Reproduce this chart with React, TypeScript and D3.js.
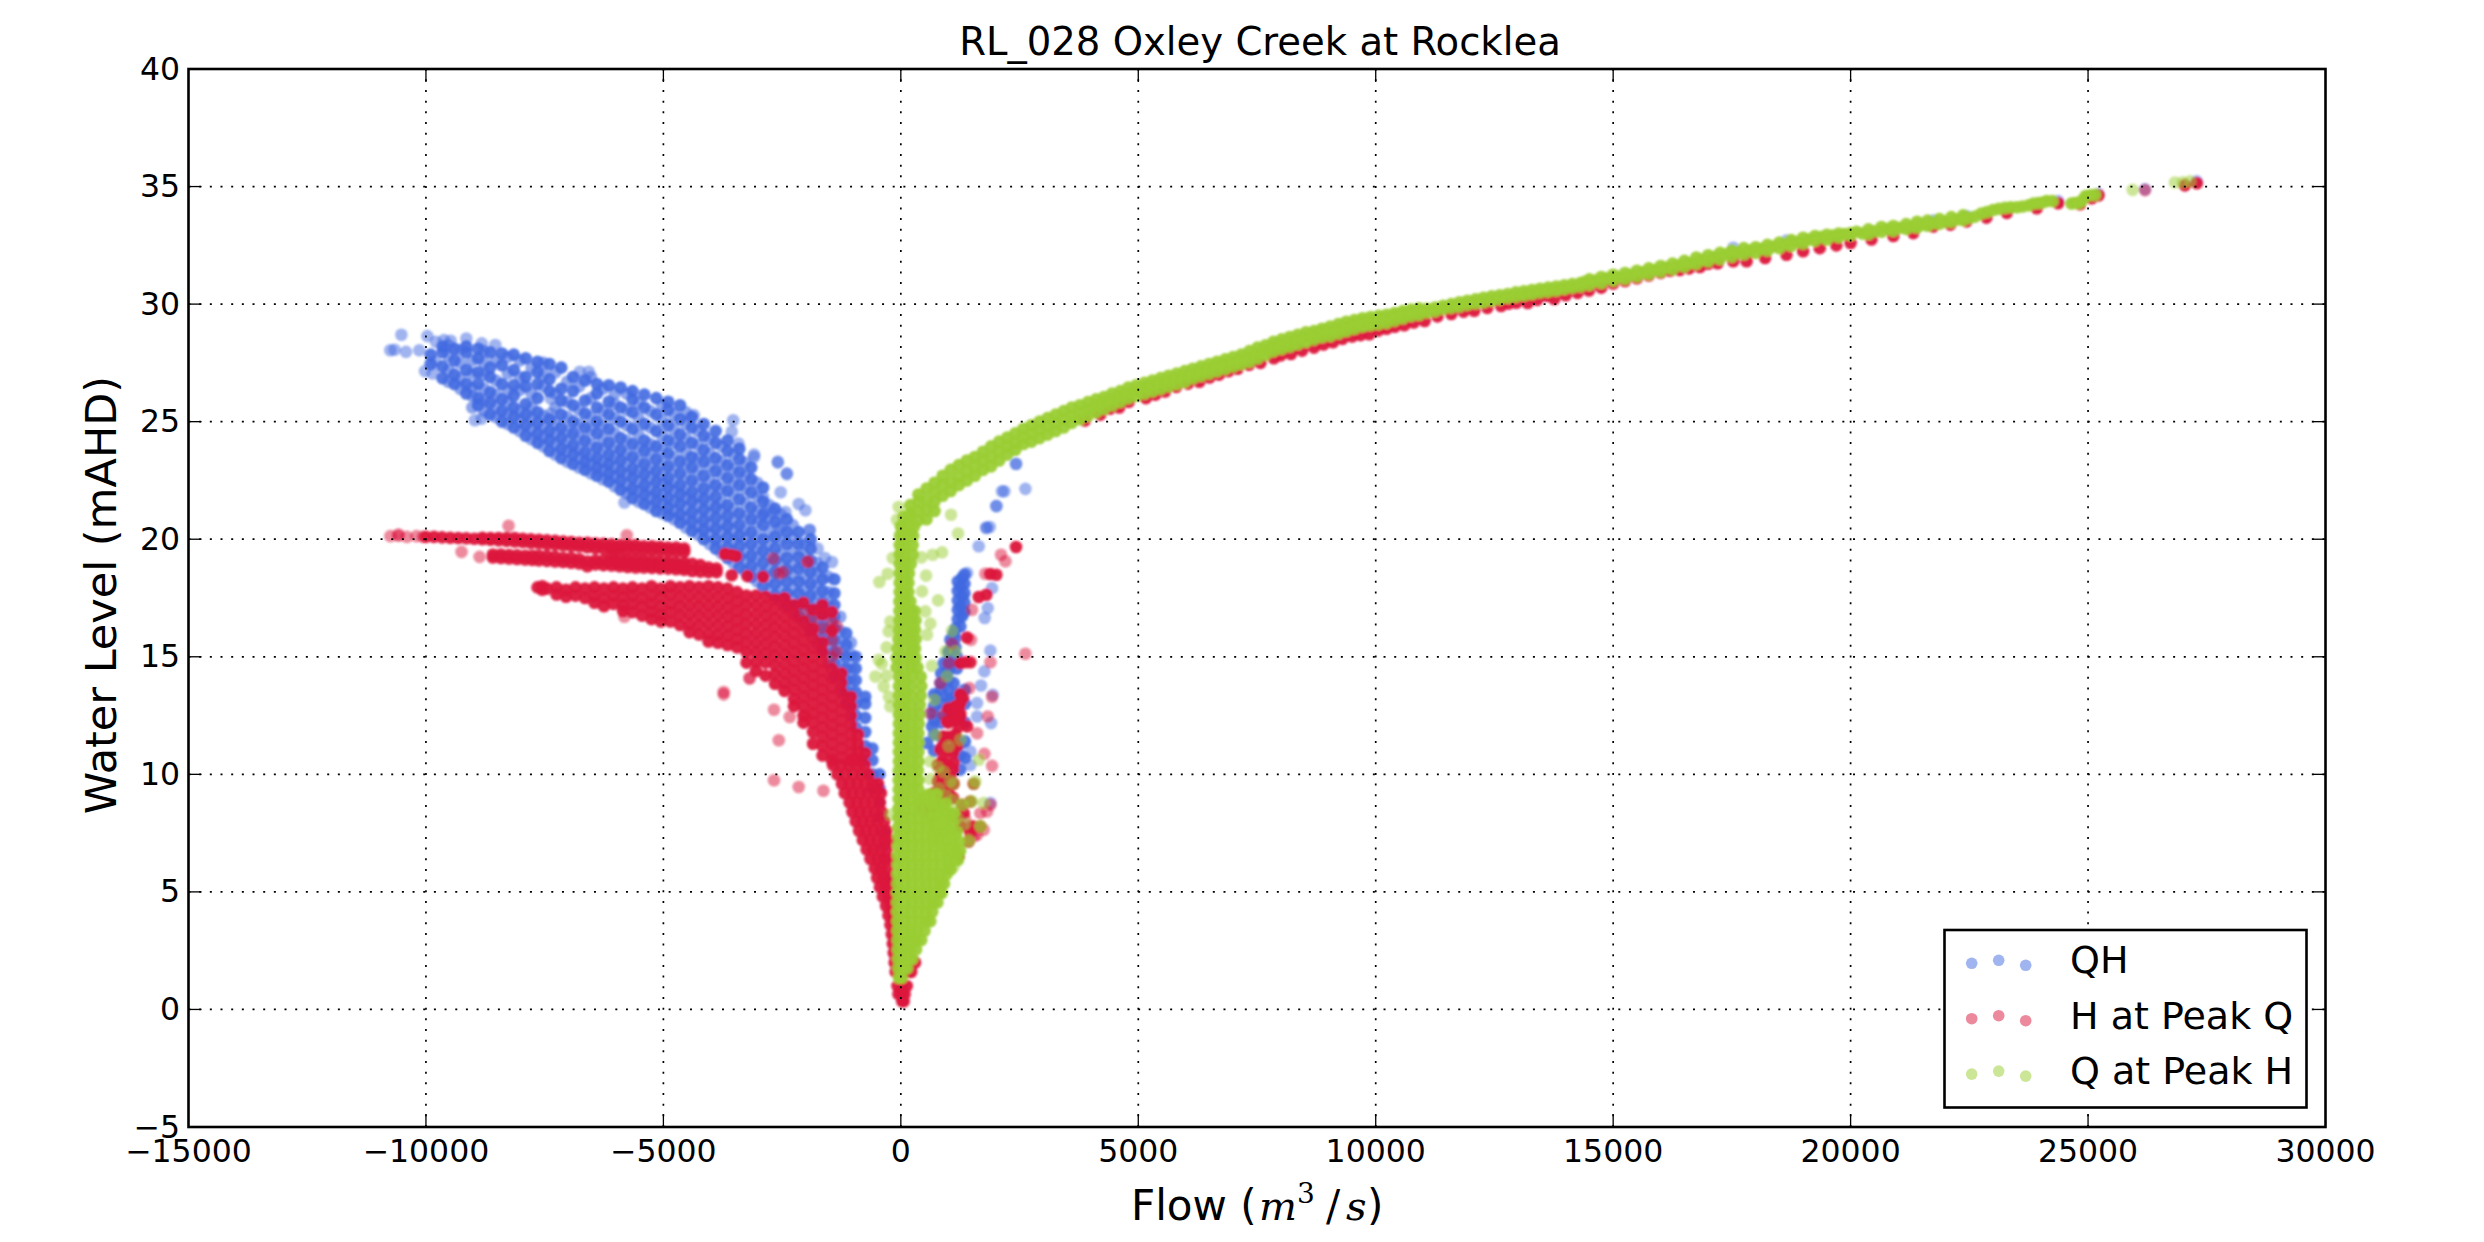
import React from "react";
import * as d3 from "d3";

type Col = [number, number[]];
const xTickValues = [-15000, -10000, -5000, 0, 5000, 10000, 15000, 20000, 25000, 30000];
const yTickValues = [-5, 0, 5, 10, 15, 20, 25, 30, 35, 40];
const chartTitle = "RL_028 Oxley Creek at Rocklea";
const legendLabels = ["QH", "H at Peak Q", "Q at Peak H"];

// QH: columns of [flow, levels]
const qhDense: Col[] = [
  [-9900, [27.45, 27.85]],
  [-9650, [26.85, 27.35, 27.95, 28.2]],
  [-9400, [26.6, 27.0, 27.6, 28.1]],
  [-9150, [26.2, 26.6, 27.2, 27.95, 28.2]],
  [-8900, [25.7, 26.0, 26.6, 27.1, 27.7, 28.1]],
  [-8650, [25.3, 25.8, 26.25, 26.9, 27.3, 27.95]],
  [-8400, [25.0, 25.45, 25.95, 26.6, 27.4, 27.9]],
  [-8150, [24.75, 25.2, 25.6, 26.1, 26.55, 27.2, 27.85]],
  [-7900, [24.4, 24.85, 25.3, 25.75, 26.5, 26.9, 27.7]],
  [-7650, [24.1, 24.5, 24.95, 25.4, 26.0, 26.6, 27.1, 27.55]],
  [-7400, [23.75, 24.2, 24.6, 25.1, 26.3, 26.8, 27.45]],
  [-7150, [23.45, 23.85, 24.3, 24.75, 25.3, 25.9, 26.4, 27.3]],
  [-6900, [23.2, 23.6, 24.0, 24.5, 25.0, 25.7, 26.3, 26.9]],
  [-6650, [22.95, 23.3, 23.7, 24.2, 24.75, 25.35, 25.9, 26.75]],
  [-6400, [22.7, 23.05, 23.45, 23.9, 24.5, 25.0, 25.6, 26.2, 26.6]],
  [-6150, [22.45, 22.8, 23.2, 23.6, 24.1, 24.7, 25.3, 25.85, 26.55]],
  [-5900, [22.1, 22.5, 22.9, 23.35, 23.8, 24.3, 25.0, 25.6, 26.45]],
  [-5650, [21.75, 22.15, 22.6, 23.0, 23.5, 24.05, 24.7, 25.4, 25.95, 26.3]],
  [-5400, [21.5, 21.9, 22.3, 22.75, 23.2, 23.75, 24.2, 24.9, 25.6, 26.15]],
  [-5150, [21.2, 21.6, 22.0, 22.45, 22.9, 23.4, 23.95, 24.6, 25.3, 26.0]],
  [-4900, [21.0, 21.35, 21.75, 22.2, 22.6, 23.1, 23.65, 24.2, 24.85, 25.5, 25.85]],
  [-4650, [20.7, 21.05, 21.5, 21.9, 22.3, 22.8, 23.3, 23.95, 24.45, 25.1, 25.7]],
  [-4400, [20.35, 20.75, 21.15, 21.6, 22.0, 22.5, 23.05, 23.5, 24.1, 24.75, 25.2]],
  [-4150, [20.0, 20.4, 20.8, 21.25, 21.7, 22.15, 22.7, 23.3, 23.8, 24.4, 24.9]],
  [-3900, [19.6, 20.0, 20.45, 20.9, 21.35, 21.8, 22.3, 22.9, 23.45, 24.1, 24.6]],
  [-3650, [19.2, 19.65, 20.1, 20.55, 21.0, 21.45, 22.05, 22.6, 23.15, 23.75, 24.2]],
  [-3400, [18.8, 19.25, 19.7, 20.15, 20.6, 21.1, 21.7, 22.3, 22.85, 23.4, 23.85]],
  [-3150, [18.4, 18.85, 19.3, 19.8, 20.3, 20.85, 21.35, 22.0, 22.55, 23.05]],
  [-2900, [18.0, 18.5, 19.0, 19.5, 20.0, 20.6, 21.05, 21.6, 22.2]],
  [-2650, [17.6, 18.1, 18.6, 19.1, 19.6, 20.1, 20.75, 21.3]],
  [-2400, [17.2, 17.7, 18.2, 18.7, 19.2, 19.8, 20.3, 20.85]],
  [-2150, [16.7, 17.2, 17.7, 18.2, 18.75, 19.25, 19.8, 20.3]],
  [-1900, [16.1, 16.6, 17.1, 17.6, 18.1, 18.6, 19.1, 19.6, 20.0]],
  [-1650, [15.3, 15.8, 16.3, 16.8, 17.3, 17.8, 18.3, 18.8]],
  [-1400, [14.2, 14.7, 15.2, 15.7, 16.2, 16.7, 17.2, 17.7, 18.3]],
  [-1150, [13.0, 13.5, 14.0, 14.5, 15.0, 15.5, 16.0]],
  [-950, [12.0, 12.5, 13, 13.5, 14, 14.5, 15.0]],
  [-750, [10.6, 11.2, 11.8, 12.4, 13.0, 13.3]],
  [-600, [9.4, 10.0, 10.6, 11.1]],
  [-450, [8.2, 8.8, 9.4, 10.0]],
  [-340, [6.4, 7.0, 7.5]],
  [-230, [5.0, 5.5]],
  [1289, [18.35, 17.57, 16.72]],
  [1254, [18.0, 17.14, 16.29]],
  [1113, [16.0, 14.73, 13.88]],
  [1043, [15.73, 15.3, 13.17]],
  [903, [14.73, 12.46]],
  [973, [14.31]],
  [833, [13.88]],
  [762, [13.3]],
  [692, [12.6]],
  [657, [12.04]],
  [552, [11.33]],
  [1200, [16.6, 17.0, 17.4, 17.8, 18.2]],
  [1340, [16.9, 17.3, 17.7, 18.1, 18.5]],
  [1150, [15.4, 15.8, 16.2]],
  [1000, [15.2, 14.8, 14.4, 14.0, 13.6, 13.2, 12.8, 12.4]],
  [1180, [15.0, 14.5, 13.4, 12.8]],
  [850, [14.3, 13.6, 13.0, 12.2, 11.6]],
  [700, [13.4, 12.9, 12.3, 11.7, 11.0]],
  [1350, [13.6, 13.0, 12.2, 11.4, 10.7]],
  [1250, [11.3, 10.8, 10.2]],
];
const qhFill: Col[] = [
  [-9525, [26.7, 27.2, 27.8, 28.25]], [-9275, [26.4, 26.85, 27.5, 28.05]], [-9025, [25.6, 26.1, 26.45, 27.05, 27.6]],
  [-8775, [25.45, 25.9, 26.4, 27.0, 27.5, 28.0]], [-8525, [25.2, 25.65, 26.15, 26.75, 27.6]],
  [-8275, [24.9, 25.35, 25.85, 26.3, 27.05, 27.75]], [-8025, [24.6, 25.05, 25.45, 26.35, 26.9, 27.6]],
  [-7775, [24.25, 24.7, 25.15, 25.6, 26.2, 27.3]], [-7525, [23.95, 24.35, 24.8, 25.25, 26.5, 27.0, 27.5]],
  [-7275, [23.6, 24.05, 24.5, 24.95, 25.6, 26.2, 27.1]], [-7025, [23.3, 23.75, 24.15, 24.6, 25.2, 25.85, 26.7]],
  [-6775, [23.05, 23.45, 23.85, 24.35, 24.9, 25.5, 26.5]], [-6525, [22.8, 23.2, 23.55, 24.05, 24.65, 25.2, 26.0, 26.9]],
  [-6275, [22.55, 22.95, 23.3, 23.8, 24.3, 24.85, 25.45, 26.4]], [-6025, [22.25, 22.65, 23.05, 23.5, 23.95, 24.5, 25.15, 25.75, 26.2]],
  [-5775, [21.95, 22.3, 22.75, 23.2, 23.65, 24.2, 24.85, 25.5, 26.2]], [-5525, [21.6, 22.05, 22.45, 22.9, 23.35, 23.9, 24.45, 25.15, 25.8]],
  [-5275, [21.35, 21.75, 22.15, 22.6, 23.05, 23.6, 24.05, 24.75, 25.45]], [-5025, [21.1, 21.5, 21.9, 22.35, 22.75, 23.25, 23.8, 24.4, 25.05, 25.7]],
  [-4775, [20.85, 21.2, 21.6, 22.05, 22.45, 22.95, 23.5, 24.1, 24.65, 25.3]], [-4525, [20.5, 20.9, 21.3, 21.75, 22.15, 22.65, 23.2, 23.7, 24.3, 24.9, 25.4]],
  [-4275, [20.2, 20.55, 21.0, 21.45, 21.85, 22.35, 22.9, 23.45, 24.0, 24.6]], [-4025, [19.8, 20.2, 20.6, 21.05, 21.5, 22.0, 22.5, 23.1, 23.65, 24.25]],
  [-3775, [19.4, 19.8, 20.3, 20.7, 21.2, 21.6, 22.15, 22.75, 23.3, 23.95]], [-3525, [19.0, 19.45, 19.9, 20.35, 20.8, 21.3, 21.9, 22.45, 23.0, 23.6]],
  [-3275, [18.6, 19.05, 19.5, 20.0, 20.45, 21.0, 21.55, 22.15, 22.7, 23.25]], [-3025, [18.2, 18.7, 19.2, 19.65, 20.15, 20.7, 21.2, 21.8, 22.4]],
  [-2775, [17.8, 18.3, 18.8, 19.3, 19.8, 20.35, 20.9, 21.45]], [-2525, [17.4, 17.9, 18.4, 18.9, 19.4, 19.95, 20.5, 21.05]],
  [-2275, [16.9, 17.45, 17.95, 18.45, 18.95, 19.5, 20.05, 20.6]], [-2025, [16.4, 16.9, 17.35, 17.85, 18.35, 18.85, 19.35, 19.8]],
  [-1775, [15.6, 16.05, 16.55, 17.05, 17.55, 18.05, 18.55, 19.0]], [-1525, [14.75, 15.25, 15.75, 16.25, 16.75, 17.25, 17.75, 18.4]],
  [-1275, [13.6, 14.1, 14.6, 15.1, 15.6, 16.1, 16.7]], [-1050, [12.5, 13.0, 13.5, 14.0, 14.5, 15.1, 15.6]],
];
const qhSparse: Col[] = [
  [-10750, [28.04]], [-10660, [28.06]], [-10420, [27.97]], [-10140, [28.04]], [-10517, [28.7]],
  [-9970, [28.64]], [-9790, [28.4]], [-9620, [28.47]], [-9480, [28.44]], [-10020, [27.15]],
  [-9860, [27.05]], [-9810, [27.55]], [-9150, [28.54]], [-8825, [28.33, 25.13]], [-8540, [28.26]],
  [-8970, [25.06]], [-7370, [25.98, 25.35]], [-6760, [27.12]], [-6570, [27.12]], [-4360, [25.28]],
  [-3530, [25.06]], [-3560, [24.57]], [-3090, [23.5, 23.6]], [-2590, [23.26, 23.3]], [-2400, [22.77, 22.8]],
  [-2530, [22.0]], [-2900, [21.8]], [-2150, [21.5]], [-2010, [21.23]], [-2430, [21.16]],
  [-2670, [21.16]], [-2860, [21.16]], [-1920, [20.38, 20.4]], [-2570, [20.5]], [-5820, [21.56]],
  [-1450, [19.03]], [-3420, [24.07]], [-1750, [19.6]], [-1600, [19.2]],
  [2426, [23.21, 23.2]], [2131, [22.04]], [2180, [22.04]], [2623, [22.14]], [2012, [21.4, 21.42]],
  [1801, [20.48, 20.5]], [1872, [20.52]], [1640, [19.7]], [1921, [17.92]], [1830, [17.07]],
  [1766, [16.65]], [1886, [15.26, 8.78]], [1759, [14.38]], [1689, [13.78]], [1935, [13.38]],
  [1605, [13.03, 12.46]], [1900, [12.18]], [1464, [10.97, 10.4]], [1393, [18.56]], [1008, [14.73]],
  [1078, [15.55]], [622, [12.6]], [26200, [34.88]], [25216, [34.68]], [24370, [34.38]], [27290, [35.22]],
  [21740, [33.55]], [22443, [33.75]], [17529, [32.4]], [18650, [32.7]],
];

// H at Peak Q
const hpqDense: Col[] = [
  [-10000, [20.1]], [-9830, [20.1]], [-9660, [20.08]], [-9490, [20.06]], [-9320, [20.05]], [-9150, [20.04]],
  [-8980, [20.02]], [-8810, [20.0, 20.06]], [-8640, [19.98, 20.05]], [-8470, [19.95, 20.05]], [-8300, [19.93, 20.05]], [-8130, [19.9, 20.05]],
  [-7960, [19.88, 20.02]], [-7790, [19.85, 20.0]], [-7620, [19.83, 19.98, 19.1, 19.3]], [-7450, [19.8, 19.95, 19.08, 19.28]], [-7280, [19.77, 19.93, 19.05, 19.25]],
  [-7110, [19.74, 19.9, 19.03, 19.2]], [-6940, [19.72, 19.88, 19.0, 19.2]], [-6770, [19.7, 19.85, 18.97, 19.15]], [-6600, [19.66, 19.85, 19.05, 18.85]],
  [-6430, [19.63, 19.82, 18.93, 19.1]], [-6260, [19.6, 19.8, 18.9, 19.1]], [-6090, [19.6, 19.78, 19.25, 18.88, 19.05]], [-5920, [19.6, 19.75, 19.2, 18.85, 19.0]],
  [-5750, [19.58, 19.75, 19.15, 18.82, 18.98]], [-5580, [19.58, 19.75, 19.15, 18.8, 18.95]], [-5410, [19.55, 19.7, 19.1, 18.8, 18.95]],
  [-5240, [19.55, 19.7, 19.1, 18.78, 18.92]], [-5070, [19.52, 19.68, 19.05, 18.76, 18.9]], [-4900, [19.5, 19.65, 19.05, 18.75, 18.9]],
  [-4730, [19.48, 19.65, 19.0, 18.72, 18.88]], [-4560, [19.46, 19.6, 19.0, 18.7, 18.85]], [-4390, [18.95, 18.65]], [-4220, [18.9, 18.62]],
  [-4050, [18.6, 18.8]], [-3880, [18.6, 18.75]], [-3700, [19.36, 19.38]], [-3560, [18.47, 19.33]], [-3470, [19.28]],
  [-8590, [19.22, 19.35]], [-8420, [19.2, 19.35]], [-8250, [19.18, 19.33]], [-8080, [19.16, 19.32]], [-7910, [19.14, 19.3]], [-7760, [19.12, 19.3]],
  [-3230, [18.43]], [-2900, [18.4]],
  [-7650, [17.95]], [-7550, [17.85, 18.0]],
  [-7450, [17.9]],
  [-7250, [17.95, 17.65]],
  [-7050, [17.85, 17.55]],
  [-6850, [17.95, 17.6]],
  [-6650, [17.9, 17.5]],
  [-6450, [17.95, 17.6, 17.3]],
  [-6250, [17.9, 17.5, 17.15]],
  [-6050, [17.95, 17.6, 17.25]],
  [-5850, [17.9, 17.55, 17.2, 16.95]],
  [-5650, [17.95, 17.6, 17.25, 16.9]],
  [-5450, [17.9, 17.5, 17.15, 16.75]],
  [-5250, [18.0, 17.6, 17.25, 16.9, 16.6]],
  [-5050, [17.9, 17.55, 17.15, 16.8, 16.5]],
  [-4850, [18.0, 17.65, 17.25, 16.9, 16.5]],
  [-4650, [17.95, 17.55, 17.15, 16.75, 16.35]],
  [-4450, [18.0, 17.6, 17.2, 16.8, 16.4, 16.05]],
  [-4250, [17.95, 17.55, 17.15, 16.75, 16.35, 15.95]],
  [-4050, [18.0, 17.6, 17.2, 16.8, 16.4, 16.0, 15.65]],
  [-3850, [17.95, 17.55, 17.15, 16.75, 16.35, 15.95, 15.6]],
  [-3650, [17.9, 17.5, 17.1, 16.7, 16.3, 15.9, 15.5]],
  [-3450, [17.75, 17.35, 16.95, 16.55, 16.15, 15.75, 15.4]],
  [-3250, [17.6, 17.2, 16.8, 16.4, 16.0, 15.6, 15.2, 14.75]],
  [-3050, [17.6, 17.2, 16.8, 16.4, 16.0, 15.6, 15.2, 14.8, 14.4]],
  [-2850, [17.55, 17.15, 16.75, 16.35, 15.95, 15.55, 15.15, 14.75, 14.2]],
  [-2650, [17.45, 17.05, 16.65, 16.25, 15.85, 15.45, 15.05, 14.65, 14.25, 13.85]],
  [-2450, [17.5, 17.1, 16.7, 16.3, 15.9, 15.5, 15.1, 14.7, 14.3, 13.9, 13.55]],
  [-2250, [17.2, 16.8, 16.4, 16.0, 15.6, 15.2, 14.8, 14.4, 14.0, 13.6, 13.2, 12.9]],
  [-2050, [17.3, 16.5, 16.1, 15.7, 15.3, 14.9, 14.5, 14.1, 13.7, 13.3, 12.9, 12.5, 12.2]],
  [-1850, [17.0, 16.2, 15.8, 15.4, 15.0, 14.6, 14.2, 13.8, 13.4, 13.0, 12.6, 12.2, 11.8, 11.3]],
  [-1650, [17.2, 16.8, 15.6, 15.2, 14.8, 14.4, 14.0, 13.6, 13.2, 12.8, 12.4, 12.0, 11.6, 11.2, 10.8]],
  [-1450, [16.9, 16.1, 14.5, 14.1, 13.7, 13.3, 12.9, 12.5, 12.1, 11.7, 11.3, 10.9, 10.6]],
  [-1250, [14.3, 13.9, 13.5, 13.1, 12.7, 12.3, 11.9, 11.5, 11.1, 10.7]],
  [-1050, [13.3, 12.9, 12.5, 12.1, 11.7, 11.3, 10.9, 10.6]],
  [-900, [11.7, 11.3, 10.9, 10.6]],
  [-750, [10.9]],
  [1310, [13.24]], [1184, [12.89, 11.2]], [1254, [12.46, 7.78]], [1113, [12.46, 11.61, 10.48]], [973, [12.25]],
  [1219, [12.04]], [1394, [12.04]], [903, [11.61, 10.48]], [833, [11.05, 9.9]], [1043, [11.05, 9.9]],
  [797, [9.34]], [1008, [9.2]], [482, [8.56]],
  [1254, [14.73]], [1359, [14.77]], [1464, [14.77]], [2426, [19.67]], [1886, [18.52]], [2012, [18.49]],
  [1640, [17.54]], [1801, [17.64]], [1394, [15.82]],
  [1250, [13.4, 13.0, 12.6]], [1150, [12.9, 12.3, 11.7, 11.2]], [1000, [12.8, 12.2, 11.6, 11.0, 10.4, 9.8]],
  [880, [11.2, 10.6, 10.0, 9.4, 8.8]], [1100, [10.9, 10.2, 9.6, 9.0]], [780, [10.4, 9.7, 9.1]], [640, [8.6, 8.2]],
  [692, [9.2]], [1534, [7.78, 9.6]], [1324, [8.35]], [1289, [8.7]], [1464, [8.84, 7.5]], [1675, [7.78]],
  [1429, [7.14]], [1219, [6.5]], [903, [8.5]], [1113, [9.6, 8.2]],
];
const hpqFunnelRows: Col[] = [
  [10.4, [-1430, -1260, -1090, -920, -760]],
  [10.0, [-1340, -1170, -1000, -830, -680]],
  [9.6, [-1240, -1080, -920, -760, -600, -480]],
  [9.2, [-1180, -1020, -860, -700, -540, -420]],
  [8.8, [-1080, -920, -760, -600, -440]],
  [8.4, [-1020, -870, -710, -550, -400]],
  [8.0, [-950, -800, -650, -500, -350]],
  [7.6, [-880, -730, -580, -430, -300]],
  [7.2, [-800, -650, -500, -350, -250]],
  [6.8, [-720, -580, -440, -300]],
  [6.4, [-640, -500, -360, -240]],
  [6.0, [-550, -420, -290]],
  [5.6, [-500, -370, -250]],
  [5.2, [-440, -320, -200]],
  [4.8, [-380, -260, -150]],
  [4.4, [-310, -200]],
  [4.0, [-260, -160]],
  [3.6, [-220, -120]],
  [3.2, [-190, -100]],
  [2.8, [-170]],
  [2.4, [-150]],
  [2.0, [-130, 300]],
  [1.6, [-110, 150, 220]],
  [1.0, [-70, 30, 125]],
  [0.65, [-50, 20, 80]],
  [0.35, [30, 60]],
];
const hpqCurve: Col[] = [
  [3874, [25.05]], [4200, [25.3]], [4400, [25.55]], [4598, [25.6]], [4800, [25.85]], [5160, [26.0]], [5360, [26.15]], [5563, [26.28]],
  [5800, [26.48]], [6045, [26.62]], [6286, [26.7]], [6500, [26.88]], [6700, [27.0]], [6900, [27.15]], [7090, [27.25]], [7330, [27.42]],
  [7573, [27.5]], [7854, [27.7]], [8000, [27.82]], [8216, [27.88]], [8450, [28.02]], [8700, [28.15]], [8900, [28.28]], [9100, [28.38]],
  [9300, [28.52]], [9502, [28.62]], [9680, [28.68]], [9864, [28.72]], [10050, [28.88]], [10226, [28.95]], [10400, [29.04]], [10600, [29.1]],
  [10800, [29.22]], [11030, [29.28]], [11300, [29.48]], [11592, [29.58]], [11850, [29.68]], [12075, [29.72]], [12350, [29.84]], [12640, [29.92]],
  [12800, [30.02]], [12960, [30.06]], [13200, [30.05]], [13400, [30.18]], [13600, [30.35]], [13760, [30.22]], [14000, [30.38]], [14250, [30.48]],
  [14490, [30.58]], [14750, [30.7]], [15000, [30.88]], [15250, [30.98]], [15500, [31.1]], [15750, [31.22]], [16000, [31.33]], [16200, [31.42]],
  [16400, [31.45]], [16600, [31.52]], [16827, [31.58]], [17000, [31.72]],
  [17200, [31.74]], [17529, [31.82]], [17810, [31.82]], [18200, [31.96]], [18650, [32.1]], [19000, [32.25]], [19350, [32.38]], [19700, [32.5]], [20000, [32.6]],
  [20440, [32.75]], [20900, [32.9]], [21320, [33.02]], [21740, [33.3]], [22100, [33.38]], [22443, [33.52]], [22860, [33.68]], [23290, [33.88]],
  [23920, [34.08]], [24370, [34.29]], [24830, [34.25]], [25075, [34.5]], [25216, [34.62]], [27040, [35.05]], [27290, [35.14]],
];
const hpqSparse: Col[] = [
  [-10750, [20.13]], [-10580, [20.15, 20.2]], [-10400, [20.1]], [-10200, [20.13]], [-10060, [20.1]],
  [-8260, [20.57]], [-5770, [20.17]], [-9250, [19.46]], [-8870, [19.25]], [-3730, [13.4, 13.5]],
  [-2670, [12.75, 9.75]], [-2340, [12.44]], [-2010, [12.5]], [-2570, [11.45, 18.55]], [-2150, [9.46]], [-1630, [9.3]],
  [-5820, [16.7]], [-3185, [14.07, 14.1]], [-2690, [19.18]], [-1960, [19.03, 19.05]], [-2480, [18.6]],
  [-2050, [16.9]], [-1850, [16.6]], [-1650, [16.2]], [-1450, [16.5, 15.7, 15.0]], [-1350, [16.3, 15.2]],
  [2110, [19.34]], [2202, [19.06]], [1780, [18.53]], [1500, [17.0]], [1478, [15.72]], [2623, [15.13]], [1886, [14.77]],
  [1443, [13.67]], [1921, [13.3, 10.36]], [1830, [12.46]], [1605, [11.75, 7.43]], [1759, [10.87]], [1008, [14.73]],
  [1078, [15.55]], [833, [13.88]], [622, [12.6]], [903, [12.53]], [1535, [7.36]], [1359, [8.07]], [1675, [8.35]],
  [1815, [8.42]], [1886, [8.7]], [1745, [7.64]], [1464, [7.78]], [26200, [34.85]], [25216, [34.64]],
];

// Q at Peak H
const qpkFunnelRows: Col[] = [
  [1.35, [-40, 20]],
  [1.75, [-50, 55, 130]],
  [2.15, [-55, 60, 175, 240]],
  [2.55, [-60, 70, 195, 320]],
  [2.95, [-65, 60, 190, 320, 430]],
  [3.35, [-70, 70, 210, 350, 500]],
  [3.75, [-70, 80, 230, 380, 530, 620]],
  [4.15, [-75, 70, 220, 370, 520, 660]],
  [4.55, [-75, 80, 230, 380, 530, 680, 770]],
  [4.95, [-75, 70, 220, 370, 520, 670, 820, 860]],
  [5.35, [-70, 80, 230, 380, 530, 680, 830, 910]],
  [5.75, [-70, 70, 220, 370, 520, 670, 820, 960]],
  [5.95, [1050]],
  [6.15, [-65, 80, 230, 380, 530, 680, 830, 1000]],
  [6.35, [1100, 1200]],
  [6.55, [-65, 70, 220, 370, 520, 670, 820, 980]],
  [6.75, [1000, 1150, 1250]],
  [6.95, [-60, 80, 230, 380, 530, 680, 850]],
  [7.15, [950, 1100, 1220]],
  [7.35, [-55, 70, 220, 370, 520, 670, 800]],
  [7.55, [900, 1050, 1180]],
  [7.75, [-55, 80, 230, 380, 530, 680, 760]],
  [7.95, [800, 950, 1100]],
  [8.15, [-50, 70, 220, 370, 520, 660]],
  [8.35, [700, 850, 1000, 1120]],
  [8.55, [-50, 80, 230, 380, 520]],
  [8.75, [650, 800, 950]],
  [8.95, [-45, 70, 220, 370, 480]],
  [9.15, [600, 750]],
  [9.35, [-45, 80, 230, 370]],
  [9.75, [-45, 70, 220, 370]],
  [10.15, [-45, 80, 230, 360]],
  [10.55, [-40, 70, 220, 370]],
  [10.95, [-40, 80, 230, 370]],
  [11.35, [-40, 70, 220, 380]],
  [11.75, [-40, 80, 230, 370]],
  [12.15, [-40, 70, 220, 380]],
  [12.55, [-40, 80, 230, 390]],
  [12.95, [-40, 70, 220, 400]],
  [13.35, [-40, 80, 230, 420]],
  [13.75, [-40, 70, 220, 430]],
  [14.15, [-40, 80, 230, 420]],
  [14.55, [-90, 70, 220, 350]],
  [14.95, [-90, 60, 210, 310]],
  [15.35, [-70, 80, 230, 300]],
  [15.75, [-50, 70, 220, 310]],
  [16.15, [-40, 80, 230, 300]],
  [16.55, [-30, 70, 220, 310]],
  [16.95, [-30, 90, 210, 290]],
  [17.35, [-30, 80, 200]],
  [17.75, [-25, 70, 160]],
  [18.15, [-25, 80, 160]],
  [18.55, [-25, 70, 170]],
  [18.95, [-25, 80, 210]],
  [19.35, [-25, 70, 250]],
  [19.75, [-25, 80, 250]],
  [20.15, [-20, 70, 260]],
  [20.55, [0, 100, 280]],
  [20.95, [60, 180]],
];
const qpkBand: Col[] = [
  [200, [20.3, 20.7, 21.1, 21.45]], [370, [20.8, 21.2, 21.6, 21.9]], [540, [20.85, 21.25, 21.65, 22.15]],
  [710, [21.2, 21.6, 22.0, 22.4]], [880, [21.85, 22.3, 22.7]], [1050, [22.05, 22.45, 22.95]],
  [1220, [22.3, 22.65, 23.15]], [1390, [22.5, 22.9, 23.35]], [1560, [22.7, 23.1, 23.5]],
  [1730, [22.95, 23.35, 23.72]], [1900, [23.1, 23.5, 23.95]], [2070, [23.35, 23.75, 24.15]],
  [2240, [23.6, 23.95, 24.32]], [2410, [23.8, 24.1, 24.5]], [2580, [24.05, 24.35, 24.7]],
  [2750, [24.15, 24.5, 24.85]], [2920, [24.3, 24.65, 25.0]], [3090, [24.45, 24.8, 25.15]],
  [3260, [24.6, 24.95, 25.3]], [3430, [24.75, 25.1, 25.45]], [3600, [24.95, 25.25, 25.6]],
  [3770, [25.1, 25.4, 25.7]], [3940, [25.25, 25.55, 25.83]], [4110, [25.4, 25.7, 25.95]],
  [4280, [25.55, 25.85, 26.05]], [4450, [25.7, 25.95, 26.2]], [4620, [25.85, 26.1, 26.3]],
  [4790, [26.0, 26.2, 26.45]], [4960, [26.1, 26.3, 26.55]], [5130, [26.2, 26.45, 26.65]],
  [5300, [26.3, 26.55, 26.75]], [5470, [26.4, 26.65, 26.85]], [5640, [26.5, 26.75, 26.95]],
  [5810, [26.6, 26.85, 27.05]], [5980, [26.7, 26.95, 27.15]], [6150, [26.85, 27.05, 27.25]],
  [6320, [26.95, 27.15, 27.35]], [6490, [27.05, 27.25, 27.45]], [6660, [27.15, 27.35, 27.55]],
  [6830, [27.25, 27.45, 27.65]], [7000, [27.35, 27.55, 27.75]], [7170, [27.45, 27.65, 27.85]],
  [7340, [27.55, 27.75, 28.0]], [7510, [27.7, 27.9, 28.15]], [7680, [27.85, 28.05, 28.25]],
  [7850, [28.0, 28.2, 28.4]], [8020, [28.1, 28.3, 28.5]], [8190, [28.2, 28.4, 28.6]],
  [8360, [28.3, 28.5, 28.7]], [8530, [28.4, 28.6, 28.8]], [8700, [28.5, 28.7, 28.85]],
  [8870, [28.6, 28.8, 28.95]], [9040, [28.65, 28.85, 29.05]], [9210, [28.75, 28.95, 29.15]],
  [9380, [28.85, 29.05, 29.25]], [9550, [28.95, 29.15, 29.32]], [9720, [29.05, 29.25, 29.4]],
  [9890, [29.1, 29.3, 29.45]], [10060, [29.15, 29.35, 29.5]], [10230, [29.2, 29.4, 29.55]],
  [10400, [29.3, 29.5, 29.62]], [10570, [29.4, 29.55, 29.7]], [10740, [29.5, 29.65, 29.77]],
  [10910, [29.55, 29.7, 29.82]], [11080, [29.65, 29.8]], [11250, [29.7, 29.85]], [11420, [29.8, 29.93]],
  [11590, [29.85, 30.0]], [11760, [29.9, 30.08]], [11930, [29.98, 30.14]], [12100, [30.03, 30.2]],
  [12270, [30.08, 30.27]], [12440, [30.15, 30.33]], [12610, [30.2, 30.38]], [12780, [30.27, 30.43]],
  [12950, [30.32, 30.5]], [13120, [30.38, 30.55]], [13290, [30.43, 30.6]], [13460, [30.5, 30.65]],
  [13630, [30.53, 30.7]], [13800, [30.58, 30.75]], [13970, [30.65, 30.8]], [14140, [30.7, 30.85]],
  [14310, [30.75, 30.9]], [14500, [30.82, 31.05]], [14750, [30.9, 31.15]], [15000, [31.0, 31.25]],
  [15250, [31.08, 31.32]], [15500, [31.18, 31.42]], [15750, [31.28, 31.52]], [16000, [31.38, 31.62]],
  [16250, [31.48, 31.72]], [16500, [31.6, 31.84]], [16750, [31.72, 31.98]], [17000, [31.82, 32.08]],
  [17250, [31.92, 32.18]], [17500, [32.02, 32.28]], [17750, [32.12, 32.38]], [18000, [32.18, 32.42]],
  [18250, [32.28, 32.52]], [18500, [32.38, 32.62]], [18750, [32.48, 32.72]], [19000, [32.58, 32.82]],
  [19250, [32.7, 32.9]], [19500, [32.75, 32.95]], [19750, [32.85, 33.0]], [20000, [32.94, 33.02]],
  [20250, [33.0]], [20500, [33.1]], [20800, [33.2]], [21039, [33.25]], [21300, [33.3]], [21500, [33.38]],
  [21740, [33.44]], [22000, [33.5]], [22250, [33.6]], [22500, [33.67]], [22750, [33.85]], [23000, [34.0]],
  [23250, [34.1]], [23500, [34.12]], [23750, [34.2]], [23950, [34.3]], [24128, [34.38]], [24650, [34.28]],
  [24800, [34.3]], [24950, [34.6]], [25150, [34.65]],
];
const qpkBandFill: Col[] = [
  [14400, [30.95]], [14625, [31.0]], [14875, [31.1]], [15125, [31.15]], [15375, [31.25]], [15625, [31.35]], [15875, [31.45]],
  [16125, [31.55]], [16375, [31.65]], [16625, [31.75]], [16875, [31.88]], [17125, [32.0]], [17375, [32.12]], [17625, [32.2]],
  [17875, [32.28]], [18125, [32.35]], [18375, [32.45]], [18625, [32.55]], [18875, [32.65]], [19125, [32.75]], [19375, [32.85]],
  [19625, [32.92]], [19875, [32.98]], [20125, [33.08]], [20375, [32.98, 33.18]], [20650, [33.08, 33.28]], [20900, [33.12, 33.32]],
  [21170, [33.2, 33.4]], [21400, [33.26, 33.5]], [21620, [33.33, 33.55]], [21870, [33.42, 33.62]], [22120, [33.5, 33.7]],
  [22370, [33.58, 33.78]], [22620, [33.72]], [22870, [33.92]], [23120, [34.05]], [23370, [34.12]], [23620, [34.15]], [23850, [34.28]],
  [24040, [34.32]], [24250, [34.38]], [24720, [34.3]], [24870, [34.4]], [25050, [34.63]],
];
const qpkSparse: Col[] = [
  [25939, [34.86]], [26830, [35.17]], [27000, [35.18]], [27150, [35.22]],
  [-45, [21.37]], [-80, [20.83]], [-171, [19.2]], [-277, [18.53]], [-452, [18.18]], [1057, [21.04]], [1205, [20.24]],
  [671, [19.34]], [868, [19.44]], [433, [19.23]], [531, [18.45]], [446, [17.78]], [784, [17.4]], [517, [16.93, 9.06]],
  [-220, [16.5, 12.89, 8.28]], [-256, [16.08]], [622, [16.41, 10.55]], [552, [15.94]], [-466, [14.87]], [-400, [14.7]],
  [-536, [14.16]], [-361, [13.74]], [-300, [15.4, 14.2]], [-250, [13.3]], [657, [14.62]], [973, [14.17]], [706, [13.17]],
  [1078, [16.1]], [938, [15.23, 7.85]], [1148, [15.23]], [727, [11.68]], [1008, [11.2]], [1254, [11.47]],
  [1640, [10.62]], [1570, [9.7]], [1043, [9.7]], [1289, [8.7, 8.72]], [903, [8.56, 10.1, 8.5]], [1500, [8.85]], [1745, [8.78]],
  [1675, [7.78, 7.8]], [1183, [8.14]], [1429, [7.2, 7.14]], [800, [9.4, 8.2]], [1100, [8.9, 7.4]], [1350, [7.9]], [620, [9.8, 8.9]],
  [780, [10.3]], [950, [9.1]], [1464, [8.84]], [1219, [6.5]], [552, [9.06]], [1113, [9.6, 6.08]], [1534, [9.6]],
  [973, [6.93, 7.5]], [692, [8.77]], [762, [7.1]], [903, [7.92]],
];

const W = 2484, H = 1242;
const frame = { left: 188.5, right: 2325.5, top: 69, bottom: 1127 };
const x = d3.scaleLinear().domain([-15000, 30000]).range([frame.left, frame.right]);
const y = d3.scaleLinear().domain([-5, 40]).range([frame.bottom, frame.top]);
const FONT = "'DejaVu Sans', sans-serif";
const MATH = "'DejaVu Serif', serif";
const BLUE = "#4169E1", RED = "#DC143C", GREEN = "#9ACD32";
const R = 6.3;

const fromCols = (cols: Col[]) => cols.flatMap(([v, hs]) => hs.map((h) => [v, h] as [number, number]));
const fromRows = (rows: Col[]) => rows.flatMap(([h, vs]) => vs.map((v) => [v, h] as [number, number]));

function Dots({ pts, fill, opacity }: { pts: [number, number][]; fill: string; opacity: number }) {
  return (
    <g fill={fill} fillOpacity={opacity}>
      {pts.map(([v, h], i) => (
        <circle key={i} cx={x(v)} cy={y(h)} r={R} />
      ))}
    </g>
  );
}

const fmt = (n: number) => (n < 0 ? "\u2212" + Math.abs(n) : String(n));
const legendDots = [[1971.7, 963.3], [1998.7, 960.3], [2025.7, 965.3]];
const legendColors = [BLUE, RED, GREEN];
const legendBaselines = [973, 1028.5, 1084];

export default function App() {
  return (
    <svg width={W} height={H} viewBox={`0 0 ${W} ${H}`} style={{ position: "absolute", left: 0, top: 0, background: "#fff" }}>
      <defs>
        <filter id="soft" x="-5%" y="-5%" width="110%" height="110%">
          <feGaussianBlur stdDeviation="0.8" />
        </filter>
      </defs>
      <g filter="url(#soft)">
        <Dots pts={fromCols(qhSparse)} fill={BLUE} opacity={0.5} />
        <Dots pts={fromCols(qhFill)} fill={BLUE} opacity={0.6} />
        <Dots pts={fromCols(qhDense)} fill={BLUE} opacity={0.9} />
        <Dots pts={fromCols(hpqSparse)} fill={RED} opacity={0.5} />
        <Dots pts={[...fromCols(hpqDense), ...fromRows(hpqFunnelRows), ...fromCols(hpqCurve)]} fill={RED} opacity={0.95} />
        <Dots pts={fromCols(qpkSparse)} fill={GREEN} opacity={0.5} />
        <Dots pts={[...fromRows(qpkFunnelRows), ...fromCols(qpkBand), ...fromCols(qpkBandFill)]} fill={GREEN} opacity={0.95} />
      </g>
      <g stroke="#000" strokeWidth={1.7} strokeDasharray="2 8.67" fill="none">
        {xTickValues.slice(1, -1).map((t) => (
          <line key={t} x1={x(t)} x2={x(t)} y1={frame.bottom} y2={frame.top} />
        ))}
        {yTickValues.slice(1, -1).map((t) => (
          <line key={t} x1={frame.left} x2={frame.right} y1={y(t)} y2={y(t)} />
        ))}
      </g>
      <g stroke="#000" strokeWidth={1.3}>
        {xTickValues.slice(1, -1).map((t) => (
          <g key={t}>
            <line x1={x(t)} x2={x(t)} y1={frame.bottom} y2={frame.bottom - 13} />
            <line x1={x(t)} x2={x(t)} y1={frame.top} y2={frame.top + 13} />
          </g>
        ))}
        {yTickValues.slice(1, -1).map((t) => (
          <g key={t}>
            <line x1={frame.left} x2={frame.left + 13} y1={y(t)} y2={y(t)} />
            <line x1={frame.right} x2={frame.right - 13} y1={y(t)} y2={y(t)} />
          </g>
        ))}
      </g>
      <rect x={frame.left} y={frame.top} width={frame.right - frame.left} height={frame.bottom - frame.top} fill="none" stroke="#000" strokeWidth={2.6} />
      <g fontFamily={FONT} fontSize={31.5} fill="#000">
        {xTickValues.map((t) => (
          <text key={t} x={x(t)} y={1162} textAnchor="middle">{fmt(t)}</text>
        ))}
        {yTickValues.map((t) => (
          <text key={t} x={180} y={y(t) + 10.5} textAnchor="end">{fmt(t)}</text>
        ))}
      </g>
      <text x={1260} y={55} textAnchor="middle" fontFamily={FONT} fontSize={38.6} fill="#000">{chartTitle}</text>
      <text transform={`translate(115.5,595) rotate(-90)`} textAnchor="middle" fontFamily={FONT} fontSize={43} fill="#000">Water Level (mAHD)</text>
      <g fontFamily={FONT} fontSize={42} fill="#000">
        <text x={1131} y={1220}>Flow (</text>
        <text x={1259} y={1220} fontFamily={MATH} fontStyle="italic" fontSize={40}>m</text>
        <text x={1297} y={1203} fontFamily={MATH} fontSize={28}>3</text>
        <text x={1326} y={1220} fontFamily={MATH} fontSize={42}>/</text>
        <text x={1346} y={1220} fontFamily={MATH} fontStyle="italic" fontSize={40}>s</text>
        <text x={1367} y={1220}>)</text>
      </g>
      <rect x={1944.5} y={930} width={362} height={177.5} fill="#fff" stroke="#000" strokeWidth={2.6} />
      {legendLabels.map((label, i) => (
        <g key={label}>
          {legendDots.map(([dx, dy], j) => (
            <circle key={j} cx={dx} cy={dy + i * 55.4} r={5.8} fill={legendColors[i]} fillOpacity={0.5} />
          ))}
          <text x={2070} y={legendBaselines[i]} fontFamily={FONT} fontSize={38} fill="#000">{label}</text>
        </g>
      ))}
    </svg>
  );
}
